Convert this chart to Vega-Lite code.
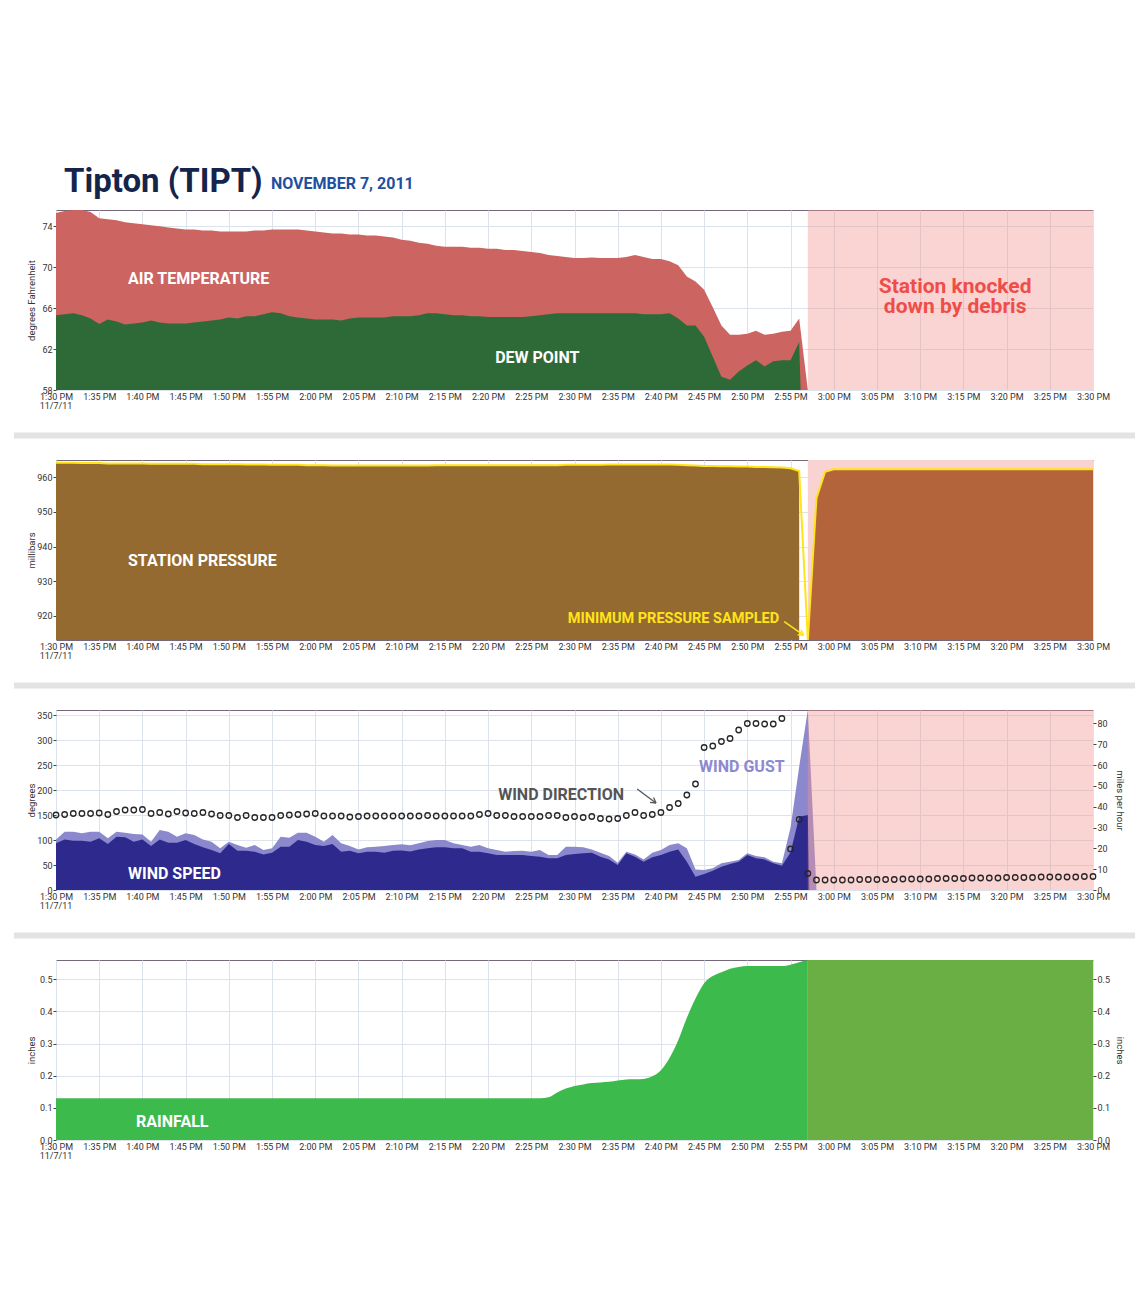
{
"$schema":"https://vega.github.io/schema/vega-lite/v6.json",
"background":"white",
"padding":{"top":165,"left":13,"right":5,"bottom":5},
"title":{"text":"Tipton (TIPT)","anchor":"start","dx":50,"offset":-23,"fontSize":33,"fontWeight":"bold","color":"#15244b","font":"Roboto"},
"spacing":20.5,
"datasets":{"wx":[
{"t":"2011-11-07T13:30","temp":75.3,"dew":65.3,"p":964.2,"spd":22.4,"gust":24.3,"dir":150,"rain":0.13},
{"t":"2011-11-07T13:31","temp":75.5,"dew":65.4,"p":964.2,"spd":24.3,"gust":28.0,"dir":151,"rain":0.13},
{"t":"2011-11-07T13:32","temp":75.6,"dew":65.5,"p":964.2,"spd":23.7,"gust":28.0,"dir":153,"rain":0.13},
{"t":"2011-11-07T13:33","temp":75.6,"dew":65.3,"p":964.1,"spd":23.7,"gust":27.2,"dir":153,"rain":0.13},
{"t":"2011-11-07T13:34","temp":75.4,"dew":65.0,"p":964.1,"spd":23.2,"gust":28.0,"dir":153,"rain":0.13},
{"t":"2011-11-07T13:35","temp":74.8,"dew":64.45,"p":964.1,"spd":24.8,"gust":28.0,"dir":154,"rain":0.13},
{"t":"2011-11-07T13:36","temp":74.7,"dew":64.9,"p":964.0,"spd":22.1,"gust":24.8,"dir":151,"rain":0.13},
{"t":"2011-11-07T13:37","temp":74.6,"dew":64.7,"p":964.0,"spd":25.6,"gust":28.0,"dir":157,"rain":0.13},
{"t":"2011-11-07T13:38","temp":74.4,"dew":64.4,"p":964.0,"spd":25.3,"gust":27.5,"dir":160,"rain":0.13},
{"t":"2011-11-07T13:39","temp":74.3,"dew":64.5,"p":964.0,"spd":23.2,"gust":26.9,"dir":160,"rain":0.13},
{"t":"2011-11-07T13:40","temp":74.2,"dew":64.6,"p":964.0,"spd":24.3,"gust":26.7,"dir":161,"rain":0.13},
{"t":"2011-11-07T13:41","temp":74.1,"dew":64.8,"p":963.9,"spd":21.1,"gust":23.2,"dir":153,"rain":0.13},
{"t":"2011-11-07T13:42","temp":74.0,"dew":64.6,"p":963.9,"spd":24.3,"gust":28.8,"dir":155,"rain":0.13},
{"t":"2011-11-07T13:43","temp":73.9,"dew":64.5,"p":963.9,"spd":22.7,"gust":28.0,"dir":152,"rain":0.13},
{"t":"2011-11-07T13:44","temp":73.8,"dew":64.5,"p":963.9,"spd":22.7,"gust":25.6,"dir":157,"rain":0.13},
{"t":"2011-11-07T13:45","temp":73.7,"dew":64.5,"p":963.9,"spd":24.0,"gust":27.2,"dir":154,"rain":0.13},
{"t":"2011-11-07T13:46","temp":73.7,"dew":64.6,"p":963.9,"spd":22.1,"gust":26.4,"dir":153,"rain":0.13},
{"t":"2011-11-07T13:47","temp":73.6,"dew":64.7,"p":963.8,"spd":20.5,"gust":24.3,"dir":155,"rain":0.13},
{"t":"2011-11-07T13:48","temp":73.6,"dew":64.8,"p":963.8,"spd":19.2,"gust":23.2,"dir":152,"rain":0.13},
{"t":"2011-11-07T13:49","temp":73.5,"dew":64.9,"p":963.8,"spd":17.6,"gust":20.0,"dir":149,"rain":0.13},
{"t":"2011-11-07T13:50","temp":73.5,"dew":65.1,"p":963.8,"spd":22.1,"gust":23.2,"dir":149,"rain":0.13},
{"t":"2011-11-07T13:51","temp":73.5,"dew":65.0,"p":963.8,"spd":18.9,"gust":21.6,"dir":145,"rain":0.13},
{"t":"2011-11-07T13:52","temp":73.5,"dew":65.2,"p":963.7,"spd":18.9,"gust":20.3,"dir":149,"rain":0.13},
{"t":"2011-11-07T13:53","temp":73.6,"dew":65.2,"p":963.7,"spd":18.4,"gust":21.6,"dir":145,"rain":0.13},
{"t":"2011-11-07T13:54","temp":73.6,"dew":65.4,"p":963.7,"spd":17.0,"gust":19.2,"dir":145,"rain":0.13},
{"t":"2011-11-07T13:55","temp":73.7,"dew":65.6,"p":963.6,"spd":17.9,"gust":20.0,"dir":145,"rain":0.13},
{"t":"2011-11-07T13:56","temp":73.7,"dew":65.5,"p":963.6,"spd":20.8,"gust":25.6,"dir":149,"rain":0.13},
{"t":"2011-11-07T13:57","temp":73.7,"dew":65.2,"p":963.6,"spd":20.8,"gust":25.1,"dir":150,"rain":0.13},
{"t":"2011-11-07T13:58","temp":73.7,"dew":65.1,"p":963.6,"spd":24.0,"gust":27.5,"dir":151,"rain":0.13},
{"t":"2011-11-07T13:59","temp":73.6,"dew":65.0,"p":963.5,"spd":23.2,"gust":27.5,"dir":152,"rain":0.13},
{"t":"2011-11-07T14:00","temp":73.5,"dew":64.9,"p":963.5,"spd":21.6,"gust":25.6,"dir":153,"rain":0.13},
{"t":"2011-11-07T14:01","temp":73.4,"dew":64.9,"p":963.5,"spd":21.1,"gust":23.2,"dir":148,"rain":0.13},
{"t":"2011-11-07T14:02","temp":73.3,"dew":64.9,"p":963.4,"spd":22.1,"gust":26.4,"dir":148,"rain":0.13},
{"t":"2011-11-07T14:03","temp":73.3,"dew":64.8,"p":963.4,"spd":18.4,"gust":22.4,"dir":148,"rain":0.13},
{"t":"2011-11-07T14:04","temp":73.2,"dew":65.0,"p":963.4,"spd":18.9,"gust":21.1,"dir":146,"rain":0.13},
{"t":"2011-11-07T14:05","temp":73.2,"dew":65.1,"p":963.4,"spd":17.6,"gust":19.5,"dir":147,"rain":0.13},
{"t":"2011-11-07T14:06","temp":73.1,"dew":65.1,"p":963.4,"spd":18.4,"gust":20.5,"dir":148,"rain":0.13},
{"t":"2011-11-07T14:07","temp":73.1,"dew":65.1,"p":963.4,"spd":18.4,"gust":20.8,"dir":148,"rain":0.13},
{"t":"2011-11-07T14:08","temp":73.0,"dew":65.1,"p":963.4,"spd":17.9,"gust":21.1,"dir":148,"rain":0.13},
{"t":"2011-11-07T14:09","temp":72.9,"dew":65.2,"p":963.4,"spd":18.9,"gust":21.6,"dir":148,"rain":0.13},
{"t":"2011-11-07T14:10","temp":72.7,"dew":65.2,"p":963.4,"spd":19.0,"gust":22.0,"dir":148,"rain":0.13},
{"t":"2011-11-07T14:11","temp":72.6,"dew":65.2,"p":963.4,"spd":18.5,"gust":21.5,"dir":148,"rain":0.13},
{"t":"2011-11-07T14:12","temp":72.4,"dew":65.3,"p":963.4,"spd":19.5,"gust":22.5,"dir":148,"rain":0.13},
{"t":"2011-11-07T14:13","temp":72.3,"dew":65.5,"p":963.4,"spd":20.0,"gust":23.5,"dir":149,"rain":0.13},
{"t":"2011-11-07T14:14","temp":72.1,"dew":65.5,"p":963.5,"spd":20.5,"gust":24.0,"dir":148,"rain":0.13},
{"t":"2011-11-07T14:15","temp":72.0,"dew":65.4,"p":963.5,"spd":20.5,"gust":24.0,"dir":148,"rain":0.13},
{"t":"2011-11-07T14:16","temp":72.0,"dew":65.3,"p":963.5,"spd":20.0,"gust":22.4,"dir":148,"rain":0.13},
{"t":"2011-11-07T14:17","temp":72.0,"dew":65.3,"p":963.5,"spd":20.0,"gust":21.6,"dir":148,"rain":0.13},
{"t":"2011-11-07T14:18","temp":71.9,"dew":65.2,"p":963.5,"spd":18.4,"gust":20.8,"dir":148,"rain":0.13},
{"t":"2011-11-07T14:19","temp":71.9,"dew":65.2,"p":963.5,"spd":18.4,"gust":21.6,"dir":151,"rain":0.13},
{"t":"2011-11-07T14:20","temp":71.8,"dew":65.15,"p":963.5,"spd":17.6,"gust":20.0,"dir":153,"rain":0.13},
{"t":"2011-11-07T14:21","temp":71.8,"dew":65.15,"p":963.5,"spd":16.8,"gust":19.2,"dir":149,"rain":0.13},
{"t":"2011-11-07T14:22","temp":71.7,"dew":65.15,"p":963.5,"spd":16.8,"gust":18.4,"dir":149,"rain":0.13},
{"t":"2011-11-07T14:23","temp":71.7,"dew":65.15,"p":963.5,"spd":16.8,"gust":18.7,"dir":147,"rain":0.13},
{"t":"2011-11-07T14:24","temp":71.6,"dew":65.15,"p":963.5,"spd":16.8,"gust":18.9,"dir":147,"rain":0.13},
{"t":"2011-11-07T14:25","temp":71.5,"dew":65.2,"p":963.5,"spd":16.3,"gust":18.4,"dir":147,"rain":0.13},
{"t":"2011-11-07T14:26","temp":71.4,"dew":65.3,"p":963.5,"spd":16.0,"gust":19.2,"dir":147,"rain":0.13},
{"t":"2011-11-07T14:27","temp":71.2,"dew":65.4,"p":963.5,"spd":15.2,"gust":16.8,"dir":149,"rain":0.133},
{"t":"2011-11-07T14:28","temp":71.1,"dew":65.5,"p":963.5,"spd":15.2,"gust":16.8,"dir":149,"rain":0.148},
{"t":"2011-11-07T14:29","temp":71.0,"dew":65.5,"p":963.6,"spd":16.8,"gust":20.8,"dir":145,"rain":0.16},
{"t":"2011-11-07T14:30","temp":70.9,"dew":65.5,"p":963.6,"spd":17.3,"gust":20.8,"dir":147,"rain":0.168},
{"t":"2011-11-07T14:31","temp":70.9,"dew":65.5,"p":963.6,"spd":17.6,"gust":20.5,"dir":145,"rain":0.173},
{"t":"2011-11-07T14:32","temp":70.95,"dew":65.5,"p":963.6,"spd":17.9,"gust":19.5,"dir":147,"rain":0.177},
{"t":"2011-11-07T14:33","temp":70.9,"dew":65.5,"p":963.6,"spd":16.0,"gust":17.9,"dir":143,"rain":0.179},
{"t":"2011-11-07T14:34","temp":70.9,"dew":65.5,"p":963.7,"spd":14.7,"gust":16.3,"dir":142,"rain":0.181},
{"t":"2011-11-07T14:35","temp":70.9,"dew":65.5,"p":963.7,"spd":12.0,"gust":13.1,"dir":143,"rain":0.185},
{"t":"2011-11-07T14:36","temp":71.0,"dew":65.5,"p":963.7,"spd":17.6,"gust":18.4,"dir":149,"rain":0.188},
{"t":"2011-11-07T14:37","temp":71.2,"dew":65.5,"p":963.7,"spd":16.0,"gust":17.1,"dir":155,"rain":0.189},
{"t":"2011-11-07T14:38","temp":71.0,"dew":65.4,"p":963.7,"spd":13.6,"gust":14.7,"dir":149,"rain":0.19},
{"t":"2011-11-07T14:39","temp":70.8,"dew":65.4,"p":963.7,"spd":15.7,"gust":17.9,"dir":151,"rain":0.198},
{"t":"2011-11-07T14:40","temp":70.8,"dew":65.4,"p":963.7,"spd":16.8,"gust":19.2,"dir":155,"rain":0.217},
{"t":"2011-11-07T14:41","temp":70.6,"dew":65.5,"p":963.7,"spd":18.4,"gust":21.6,"dir":165,"rain":0.255},
{"t":"2011-11-07T14:42","temp":70.2,"dew":65.0,"p":963.6,"spd":19.5,"gust":22.4,"dir":173,"rain":0.31},
{"t":"2011-11-07T14:43","temp":69.1,"dew":64.3,"p":963.5,"spd":13.6,"gust":20.0,"dir":190,"rain":0.38},
{"t":"2011-11-07T14:44","temp":68.6,"dew":64.3,"p":963.4,"spd":6.4,"gust":9.9,"dir":212,"rain":0.44},
{"t":"2011-11-07T14:45","temp":67.8,"dew":63.2,"p":963.3,"spd":7.7,"gust":9.6,"dir":285,"rain":0.488},
{"t":"2011-11-07T14:46","temp":66.1,"dew":61.25,"p":963.3,"spd":9.3,"gust":10.4,"dir":288,"rain":0.51},
{"t":"2011-11-07T14:47","temp":64.3,"dew":59.3,"p":963.2,"spd":11.2,"gust":12.8,"dir":297,"rain":0.522},
{"t":"2011-11-07T14:48","temp":63.4,"dew":59.0,"p":963.2,"spd":12.5,"gust":13.6,"dir":303,"rain":0.533},
{"t":"2011-11-07T14:49","temp":63.4,"dew":59.8,"p":963.1,"spd":13.6,"gust":14.4,"dir":320,"rain":0.538},
{"t":"2011-11-07T14:50","temp":63.5,"dew":60.4,"p":963.1,"spd":16.8,"gust":17.6,"dir":333,"rain":0.541},
{"t":"2011-11-07T14:51","temp":63.8,"dew":60.9,"p":963.0,"spd":15.2,"gust":16.3,"dir":333,"rain":0.541},
{"t":"2011-11-07T14:52","temp":63.4,"dew":60.3,"p":963.0,"spd":14.7,"gust":15.7,"dir":332,"rain":0.541},
{"t":"2011-11-07T14:53","temp":63.5,"dew":60.8,"p":962.9,"spd":12.8,"gust":13.6,"dir":332,"rain":0.541},
{"t":"2011-11-07T14:54","temp":63.7,"dew":60.9,"p":962.8,"spd":11.7,"gust":12.8,"dir":343,"rain":0.541},
{"t":"2011-11-07T14:55","temp":63.8,"dew":60.9,"p":962.6,"spd":18.0,"gust":30.0,"dir":82,"rain":0.545},
{"t":"2011-11-07T14:56","temp":65.0,"dew":62.7,"p":961.8,"spd":35.2,"gust":59.2,"dir":141,"rain":0.553},
{"t":"2011-11-07T14:56:10","dew":58.0},
{"t":"2011-11-07T14:57","temp":58.0,"p":913.0,"spd":36.0,"gust":86.4,"dir":33,"rain":0.56},
{"t":"2011-11-07T14:57:10","spd":0},
{"t":"2011-11-07T14:58","p":954.0,"spd":0,"gust":0,"dir":20,"rain":0.56},
{"t":"2011-11-07T14:59","p":961.6,"spd":0,"gust":0,"dir":20,"rain":0.56},
{"t":"2011-11-07T15:00","p":962.3,"spd":0,"gust":0,"dir":20,"rain":0.56},
{"t":"2011-11-07T15:01","p":962.3,"spd":0,"gust":0,"dir":20,"rain":0.56},
{"t":"2011-11-07T15:02","p":962.3,"spd":0,"gust":0,"dir":20,"rain":0.56},
{"t":"2011-11-07T15:03","p":962.3,"spd":0,"gust":0,"dir":21,"rain":0.56},
{"t":"2011-11-07T15:04","p":962.3,"spd":0,"gust":0,"dir":21,"rain":0.56},
{"t":"2011-11-07T15:05","p":962.3,"spd":0,"gust":0,"dir":21,"rain":0.56},
{"t":"2011-11-07T15:06","p":962.3,"spd":0,"gust":0,"dir":21,"rain":0.56},
{"t":"2011-11-07T15:07","p":962.3,"spd":0,"gust":0,"dir":21,"rain":0.56},
{"t":"2011-11-07T15:08","p":962.3,"spd":0,"gust":0,"dir":22,"rain":0.56},
{"t":"2011-11-07T15:09","p":962.3,"spd":0,"gust":0,"dir":22,"rain":0.56},
{"t":"2011-11-07T15:10","p":962.3,"spd":0,"gust":0,"dir":22,"rain":0.56},
{"t":"2011-11-07T15:11","p":962.3,"spd":0,"gust":0,"dir":22,"rain":0.56},
{"t":"2011-11-07T15:12","p":962.3,"spd":0,"gust":0,"dir":23,"rain":0.56},
{"t":"2011-11-07T15:13","p":962.3,"spd":0,"gust":0,"dir":23,"rain":0.56},
{"t":"2011-11-07T15:14","p":962.3,"spd":0,"gust":0,"dir":23,"rain":0.56},
{"t":"2011-11-07T15:15","p":962.3,"spd":0,"gust":0,"dir":23,"rain":0.56},
{"t":"2011-11-07T15:16","p":962.3,"spd":0,"gust":0,"dir":24,"rain":0.56},
{"t":"2011-11-07T15:17","p":962.3,"spd":0,"gust":0,"dir":24,"rain":0.56},
{"t":"2011-11-07T15:18","p":962.3,"spd":0,"gust":0,"dir":24,"rain":0.56},
{"t":"2011-11-07T15:19","p":962.3,"spd":0,"gust":0,"dir":24,"rain":0.56},
{"t":"2011-11-07T15:20","p":962.3,"spd":0,"gust":0,"dir":25,"rain":0.56},
{"t":"2011-11-07T15:21","p":962.3,"spd":0,"gust":0,"dir":25,"rain":0.56},
{"t":"2011-11-07T15:22","p":962.3,"spd":0,"gust":0,"dir":25,"rain":0.56},
{"t":"2011-11-07T15:23","p":962.3,"spd":0,"gust":0,"dir":25,"rain":0.56},
{"t":"2011-11-07T15:24","p":962.3,"spd":0,"gust":0,"dir":26,"rain":0.56},
{"t":"2011-11-07T15:25","p":962.3,"spd":0,"gust":0,"dir":26,"rain":0.56},
{"t":"2011-11-07T15:26","p":962.3,"spd":0,"gust":0,"dir":26,"rain":0.56},
{"t":"2011-11-07T15:27","p":962.3,"spd":0,"gust":0,"dir":26,"rain":0.56},
{"t":"2011-11-07T15:28","p":962.3,"spd":0,"gust":0,"dir":26,"rain":0.56},
{"t":"2011-11-07T15:29","p":962.3,"spd":0,"gust":0,"dir":27,"rain":0.56},
{"t":"2011-11-07T15:30","p":962.3,"spd":0,"gust":0,"dir":27,"rain":0.56}
]},
"vconcat":[
{
 "width":1037,"height":180,
 "title":{"text":"NOVEMBER 7, 2011","anchor":"start","dx":244,"offset":18,"fontSize":16,"fontWeight":"bold","color":"#1f4f9d","font":"Roboto"},
 "data":{"name":"wx"},
 "encoding":{"x":{"field":"t","type":"temporal","scale":{"domain":[{"year":2011,"month":11,"date":7,"hours":13,"minutes":30},{"year":2011,"month":11,"date":7,"hours":15,"minutes":30}]},"axis":{"title":null,"grid":true,"ticks":false,"domain":false,"tickCount":24,"format":"%-I:%M %p","labelPadding":2,"labelOverlap":false,"labelFlush":false,"labelAngle":0}}},
 "layer":[
  {"transform":[{"filter":"isValid(datum.temp)"}],"mark":{"type":"area","color":"#cc6461","clip":true},
   "encoding":{"y":{"field":"temp","type":"quantitative","scale":{"domain":[58,75.6],"zero":false,"nice":false},"axis":{"title":"degrees Fahrenheit","values":[58,60,62,64,66,68,70,72,74],"grid":true,"labelPadding":1,"titlePadding":5}}}},
  {"transform":[{"filter":"isValid(datum.dew)"}],"mark":{"type":"area","color":"#2e6a37","clip":true},
   "encoding":{"y":{"field":"dew","type":"quantitative","scale":{"domain":[58,75.6],"zero":false,"nice":false}}}},
  {"data":{"values":[{"t":"2011-11-07T14:57","t2":"2011-11-07T15:30"}],"format":{"parse":{"t":"date","t2":"date"}}},"mark":{"type":"rect","color":"#f0948f","opacity":0.4},"encoding":{"x2":{"field":"t2"}}},
  {"data":{"values":[{"t":"2011-11-07T13:38:20","v":68.9,"label":"AIR TEMPERATURE"},{"t":"2011-11-07T14:20:49","v":61.1,"label":"DEW POINT"}]},
   "mark":{"type":"text","align":"left","baseline":"middle","color":"white","fontSize":16,"fontWeight":"bold","font":"Roboto"},
   "encoding":{"y":{"field":"v","type":"quantitative","scale":{"domain":[58,75.6],"zero":false,"nice":false}},"text":{"field":"label"}}},
  {"data":{"values":[{"t":"2011-11-07T15:14:03","v":68.1,"label":"Station knocked"},{"t":"2011-11-07T15:14:03","v":66.1,"label":"down by debris"}]},
   "mark":{"type":"text","align":"center","baseline":"middle","color":"#ee4d48","fontSize":21,"fontWeight":"bold","font":"Roboto"},
   "encoding":{"y":{"field":"v","type":"quantitative","scale":{"domain":[58,75.6],"zero":false,"nice":false}},"text":{"field":"label"}}},
  {"data":{"values":[{"t":"2011-11-07T13:30","v":56.44,"label":"11/7/11"}]},
   "mark":{"type":"text","align":"center","baseline":"middle","color":"#333333","fontSize":9,"font":"Roboto"},
   "encoding":{"y":{"field":"v","type":"quantitative","scale":{"domain":[58,75.6],"zero":false,"nice":false}},"text":{"field":"label"}}}
 ]
},
{"width":1037,"height":6,"view":{"stroke":null},"data":{"values":[{"a":"2011-11-07T13:25:08","b":"2011-11-07T15:34:52"}],"format":{"parse":{"a":"date","b":"date"}}},"mark":{"type":"rect","color":"#e3e3e3"},"encoding":{"x":{"field":"a","type":"temporal","scale":{"domain":[{"year":2011,"month":11,"date":7,"hours":13,"minutes":30},{"year":2011,"month":11,"date":7,"hours":15,"minutes":30}]},"axis":null},"x2":{"field":"b"}}},
{
 "width":1037,"height":180,
 "data":{"name":"wx"},
 "encoding":{"x":{"field":"t","type":"temporal","scale":{"domain":[{"year":2011,"month":11,"date":7,"hours":13,"minutes":30},{"year":2011,"month":11,"date":7,"hours":15,"minutes":30}]},"axis":{"title":null,"grid":true,"ticks":false,"domain":false,"tickCount":24,"format":"%-I:%M %p","labelPadding":2,"labelOverlap":false,"labelFlush":false,"labelAngle":0}}},
 "layer":[
  {"data":{"values":[{"t":"2011-11-07T14:57","t2":"2011-11-07T15:30"}],"format":{"parse":{"t":"date","t2":"date"}}},"mark":{"type":"rect","color":"#f9d3d1"},"encoding":{"x2":{"field":"t2"}}},
  {"transform":[{"filter":"isValid(datum.p) && time(datum.t) <= time(datetime(2011,10,7,14,56))"}],"mark":{"type":"area","color":"#946a31","clip":true},
   "encoding":{"y":{"field":"p","type":"quantitative","scale":{"domain":[913,965],"zero":false,"nice":false},"axis":{"title":"millibars","values":[920,930,940,950,960],"grid":true,"labelPadding":1,"titlePadding":0}}}},
  {"transform":[{"filter":"isValid(datum.p) && time(datum.t) >= time(datetime(2011,10,7,14,57))"}],"mark":{"type":"area","color":"#b4643a","clip":true},
   "encoding":{"y":{"field":"p","type":"quantitative","scale":{"domain":[913,965],"zero":false,"nice":false}}}},
  {"transform":[{"filter":"isValid(datum.p)"}],"mark":{"type":"line","color":"#ffe41a","strokeWidth":2,"clip":true},
   "encoding":{"y":{"field":"p","type":"quantitative","scale":{"domain":[913,965],"zero":false,"nice":false}}}},
  {"data":{"values":[{"t":"2011-11-07T13:38:20","v":935.7,"label":"STATION PRESSURE"}]},
   "mark":{"type":"text","align":"left","baseline":"middle","color":"white","fontSize":16,"fontWeight":"bold","font":"Roboto"},
   "encoding":{"y":{"field":"v","type":"quantitative","scale":{"domain":[913,965],"zero":false,"nice":false}},"text":{"field":"label"}}},
  {"data":{"values":[{"t":"2011-11-07T14:53:41","v":919.1,"label":"MINIMUM PRESSURE SAMPLED"}]},
   "mark":{"type":"text","align":"right","baseline":"middle","color":"#ffe41a","fontSize":14.5,"fontWeight":"bold","font":"Roboto"},
   "encoding":{"y":{"field":"v","type":"quantitative","scale":{"domain":[913,965],"zero":false,"nice":false}},"text":{"field":"label"}}},
  {"data":{"values":[{"t":"2011-11-07T14:54:16","v":918.3,"t2":"2011-11-07T14:56:30","v2":914.4},{"t":"2011-11-07T14:56:30","v":914.4,"t2":"2011-11-07T14:56:12","v2":915.95},{"t":"2011-11-07T14:56:30","v":914.4,"t2":"2011-11-07T14:55:49","v2":914.53}],"format":{"parse":{"t":"date","t2":"date"}}},
   "mark":{"type":"rule","color":"#ffe41a","strokeWidth":1.5},
   "encoding":{"y":{"field":"v","type":"quantitative","scale":{"domain":[913,965],"zero":false,"nice":false}},"x2":{"field":"t2"},"y2":{"field":"v2"}}},
  {"data":{"values":[{"t":"2011-11-07T13:30","v":908.38,"label":"11/7/11"}]},
   "mark":{"type":"text","align":"center","baseline":"middle","color":"#333333","fontSize":9,"font":"Roboto"},
   "encoding":{"y":{"field":"v","type":"quantitative","scale":{"domain":[913,965],"zero":false,"nice":false}},"text":{"field":"label"}}}
 ]
},
{"width":1037,"height":6,"view":{"stroke":null},"data":{"values":[{"a":"2011-11-07T13:25:08","b":"2011-11-07T15:34:52"}],"format":{"parse":{"a":"date","b":"date"}}},"mark":{"type":"rect","color":"#e3e3e3"},"encoding":{"x":{"field":"a","type":"temporal","scale":{"domain":[{"year":2011,"month":11,"date":7,"hours":13,"minutes":30},{"year":2011,"month":11,"date":7,"hours":15,"minutes":30}]},"axis":null},"x2":{"field":"b"}}},
{
 "width":1037,"height":180,
 "data":{"name":"wx"},
 "encoding":{"x":{"field":"t","type":"temporal","scale":{"domain":[{"year":2011,"month":11,"date":7,"hours":13,"minutes":30},{"year":2011,"month":11,"date":7,"hours":15,"minutes":30}]},"axis":{"title":null,"grid":true,"ticks":false,"domain":false,"tickCount":24,"format":"%-I:%M %p","labelPadding":2,"labelOverlap":false,"labelFlush":false,"labelAngle":0}}},
 "layer":[
  {"transform":[{"filter":"isValid(datum.gust)"}],"mark":{"type":"area","color":"#8c88cd","clip":true},
   "encoding":{"y":{"field":"gust","type":"quantitative","scale":{"domain":[0,86.4],"nice":false},"axis":{"orient":"right","title":"miles per hour","values":[0,10,20,30,40,50,60,70,80],"grid":false,"labelPadding":1,"titlePadding":7}}}},
  {"transform":[{"filter":"isValid(datum.spd)"}],"mark":{"type":"area","color":"#2e2a8d","clip":true},
   "encoding":{"y":{"field":"spd","type":"quantitative","scale":{"domain":[0,86.4],"nice":false},"axis":null}}},
  {"data":{"values":[{"t":"2011-11-07T14:57","t2":"2011-11-07T15:30"}],"format":{"parse":{"t":"date","t2":"date"}}},"mark":{"type":"rect","color":"#f0948f","opacity":0.4},"encoding":{"x2":{"field":"t2"}}},
  {"transform":[{"filter":"isValid(datum.dir)"}],"mark":{"type":"point","filled":false,"color":"#262626","strokeWidth":1.3,"size":30,"opacity":1},
   "encoding":{"y":{"field":"dir","type":"quantitative","scale":{"domain":[0,360],"nice":false},"axis":{"orient":"left","title":"degrees","values":[0,50,100,150,200,250,300,350],"grid":true,"labelPadding":1,"titlePadding":0}}}},
  {"data":{"values":[{"t":"2011-11-07T13:38:20","v":32,"label":"WIND SPEED"},{"t":"2011-11-07T14:21:10","v":190,"label":"WIND DIRECTION"},{"t":"2011-11-07T14:44:25","v":246,"label":"WIND GUST"}]},
   "mark":{"type":"text","align":"left","baseline":"middle","fontSize":16,"fontWeight":"bold","font":"Roboto"},
   "encoding":{"y":{"field":"v","type":"quantitative","scale":{"domain":[0,360],"nice":false},"axis":null},"text":{"field":"label"},"color":{"field":"label","type":"nominal","scale":{"domain":["WIND SPEED","WIND DIRECTION","WIND GUST"],"range":["#ffffff","#555555","#8d89d0"]},"legend":null}}},
  {"data":{"values":[{"t":"2011-11-07T14:37:15","v":202,"t2":"2011-11-07T14:39:26","v2":174},{"t":"2011-11-07T14:39:26","v":174,"t2":"2011-11-07T14:39:09","v2":185},{"t":"2011-11-07T14:39:26","v":174,"t2":"2011-11-07T14:38:44","v2":175.4}],"format":{"parse":{"t":"date","t2":"date"}}},
   "mark":{"type":"rule","color":"#555555","strokeWidth":1.3},
   "encoding":{"y":{"field":"v","type":"quantitative","scale":{"domain":[0,360],"nice":false},"axis":null},"x2":{"field":"t2"},"y2":{"field":"v2"}}},
  {"data":{"values":[{"t":"2011-11-07T13:30","v":-32,"label":"11/7/11"}]},
   "mark":{"type":"text","align":"center","baseline":"middle","color":"#333333","fontSize":9,"font":"Roboto"},
   "encoding":{"y":{"field":"v","type":"quantitative","scale":{"domain":[0,360],"nice":false},"axis":null},"text":{"field":"label"}}}
 ],
 "resolve":{"scale":{"y":"independent"}}
},
{"width":1037,"height":6,"view":{"stroke":null},"data":{"values":[{"a":"2011-11-07T13:25:08","b":"2011-11-07T15:34:52"}],"format":{"parse":{"a":"date","b":"date"}}},"mark":{"type":"rect","color":"#e3e3e3"},"encoding":{"x":{"field":"a","type":"temporal","scale":{"domain":[{"year":2011,"month":11,"date":7,"hours":13,"minutes":30},{"year":2011,"month":11,"date":7,"hours":15,"minutes":30}]},"axis":null},"x2":{"field":"b"}}},
{
 "width":1037,"height":180,
 "data":{"name":"wx"},
 "encoding":{"x":{"field":"t","type":"temporal","scale":{"domain":[{"year":2011,"month":11,"date":7,"hours":13,"minutes":30},{"year":2011,"month":11,"date":7,"hours":15,"minutes":30}]},"axis":{"title":null,"grid":true,"ticks":false,"domain":false,"tickCount":24,"format":"%-I:%M %p","labelPadding":2,"labelOverlap":false,"labelFlush":false,"labelAngle":0}}},
 "layer":[
  {"transform":[{"filter":"isValid(datum.rain) && time(datum.t) <= time(datetime(2011,10,7,14,57))"}],"mark":{"type":"area","color":"#3cba4b","interpolate":"monotone","clip":true},
   "encoding":{"y":{"field":"rain","type":"quantitative","scale":{"domain":[0,0.56],"nice":false},"axis":{"orient":"left","title":"inches","values":[0,0.1,0.2,0.3,0.4,0.5],"format":".1f","grid":true,"labelPadding":1,"titlePadding":3}}}},
  {"transform":[{"filter":"isValid(datum.rain) && time(datum.t) >= time(datetime(2011,10,7,14,57))"}],"mark":{"type":"area","color":"#6aaf44","clip":true},
   "encoding":{"y":{"field":"rain","type":"quantitative","scale":{"domain":[0,0.56],"nice":false},"axis":{"orient":"right","title":"inches","values":[0,0.1,0.2,0.3,0.4,0.5],"format":".1f","grid":false,"labelPadding":1,"titlePadding":5}}}},
  {"data":{"values":[{"t":"2011-11-07T13:39:16","v":0.056,"label":"RAINFALL"}]},
   "mark":{"type":"text","align":"left","baseline":"middle","color":"white","fontSize":16,"fontWeight":"bold","font":"Roboto"},
   "encoding":{"y":{"field":"v","type":"quantitative","scale":{"domain":[0,0.56],"nice":false},"axis":null},"text":{"field":"label"}}},
  {"data":{"values":[{"t":"2011-11-07T13:30","v":-0.0498,"label":"11/7/11"}]},
   "mark":{"type":"text","align":"center","baseline":"middle","color":"#333333","fontSize":9,"font":"Roboto"},
   "encoding":{"y":{"field":"v","type":"quantitative","scale":{"domain":[0,0.56],"nice":false},"axis":null},"text":{"field":"label"}}}
 ],
 "resolve":{"scale":{"y":"independent"}}
}
],
"config":{
 "view":{"stroke":"#74687a","strokeWidth":1},
 "axis":{"labelFont":"Roboto","labelFontSize":9,"labelColor":"#333333","titleFont":"Roboto","titleFontSize":9.5,"titleFontWeight":"normal","titleColor":"#333333","gridColor":"#dde3ec","tickColor":"#444444","tickSize":3,"domain":false}
}
}
